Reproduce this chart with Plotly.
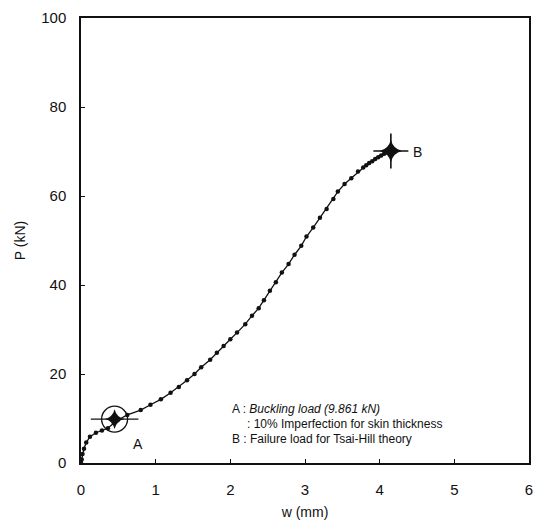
import plotly.graph_objects as go

# Load–deflection response of the stiffened panel
w_mm = [0.00, 0.01, 0.02, 0.04, 0.07, 0.12, 0.20, 0.28, 0.36, 0.44, 0.49, 0.62,
        0.80, 0.93, 1.07, 1.20, 1.31, 1.42, 1.52, 1.61, 1.73, 1.82, 1.91, 2.00,
        2.09, 2.20, 2.29, 2.38, 2.45, 2.53, 2.61, 2.69, 2.78, 2.86, 2.95, 3.02,
        3.11, 3.20, 3.29, 3.38, 3.44, 3.53, 3.62, 3.71, 3.78, 3.82, 3.86, 3.90,
        3.94, 3.98, 4.02, 4.06, 4.10, 4.15]
p_kN = [0.0, 0.8, 2.0, 3.2, 4.6, 5.9, 6.8, 7.3, 7.8, 9.0, 9.6, 10.8,
        11.9, 13.1, 14.3, 15.8, 17.1, 18.6, 20.0, 21.5, 23.2, 24.8, 26.3, 27.8,
        29.3, 31.2, 33.1, 34.8, 36.6, 38.7, 40.6, 42.8, 44.7, 46.8, 48.8, 50.9,
        52.9, 55.1, 57.1, 59.3, 61.0, 62.7, 64.0, 65.5, 66.4, 66.9, 67.4, 67.8,
        68.3, 68.7, 69.1, 69.5, 69.8, 70.1]

# Point A: buckling load, point B: failure load (Tsai-Hill)
buckling_w = [0.45]
buckling_P = [9.861]
failure_w = [4.15]
failure_P = [70.1]

x_ticks = [0, 1, 2, 3, 4, 5, 6]
y_ticks = [0, 20, 40, 60, 80, 100]

FONT = "Liberation Sans, Arial, sans-serif"
INK = "#111111"

fig = go.Figure()

fig.add_trace(go.Scatter(
    x=w_mm, y=p_kN, mode="lines+markers",
    line=dict(color=INK, width=1.3),
    marker=dict(symbol="circle", size=4.5, color=INK),
    showlegend=False, hoverinfo="x+y",
))

# Buckling point A: circled star with a horizontal bar
fig.add_trace(go.Scatter(
    x=buckling_w, y=buckling_P, mode="markers",
    marker=dict(symbol="line-ew-open", size=34, color=INK,
                line=dict(color=INK, width=1.4)),
    showlegend=False, hoverinfo="skip",
))
fig.add_trace(go.Scatter(
    x=buckling_w, y=buckling_P, mode="markers",
    marker=dict(symbol="star-diamond", size=14, color=INK, line=dict(width=0)),
    showlegend=False, hoverinfo="skip",
))
fig.add_trace(go.Scatter(
    x=buckling_w, y=buckling_P, mode="markers",
    marker=dict(symbol="circle-open", size=26, color=INK,
                line=dict(color=INK, width=1.3)),
    showlegend=False, hoverinfo="skip",
))

# Failure point B: four-pointed star
fig.add_trace(go.Scatter(
    x=failure_w, y=failure_P, mode="markers",
    marker=dict(symbol="star-diamond", size=16, color=INK, line=dict(width=0)),
    showlegend=False, hoverinfo="skip",
))
fig.add_trace(go.Scatter(
    x=failure_w, y=failure_P, mode="markers",
    marker=dict(symbol="cross-thin-open", size=25, color=INK,
                line=dict(color=INK, width=1.6)),
    showlegend=False, hoverinfo="skip",
))

txt = dict(family=FONT, size=12, color=INK)
annotations = [
    dict(x=0.77, y=4.2, text="A", font=dict(family=FONT, size=14, color=INK)),
    dict(x=4.51, y=69.8, text="B", font=dict(family=FONT, size=14, color=INK)),
    dict(x=2.0, y=12.1, xanchor="left",
         text=f"A : <i>Buckling load ({buckling_P[0]:.3f} kN)</i>", font=txt),
    dict(x=2.19, y=8.7, xanchor="left",
         text=": 10% Imperfection for skin thickness", font=txt),
    dict(x=2.0, y=5.3, xanchor="left",
         text="B : Failure load for Tsai-Hill theory", font=txt),
]
for a in annotations:
    a.update(xref="x", yref="y", showarrow=False, yanchor="middle")
    a.setdefault("xanchor", "center")

axis_common = dict(
    showline=True, linecolor=INK, linewidth=1.5, mirror=True,
    ticks="inside", ticklen=4, tickwidth=1, tickcolor=INK,
    showgrid=False, zeroline=False,
    tickfont=dict(family=FONT, size=15, color=INK),
)

fig.update_layout(
    width=542, height=529,
    margin=dict(l=81, r=9, t=15, b=66),
    paper_bgcolor="white", plot_bgcolor="white",
    xaxis=dict(range=[0, 6], tickvals=x_ticks, ticklabelstandoff=12,
               title=dict(text="w (mm)", font=dict(family=FONT, size=14, color=INK), standoff=10),
               **axis_common),
    yaxis=dict(range=[0, 100], tickvals=y_ticks, ticklabelstandoff=10,
               title=dict(text="P (kN)", font=dict(family=FONT, size=14, color=INK), standoff=12),
               **axis_common),
    annotations=annotations,
)

fig.write_html("out.html")
